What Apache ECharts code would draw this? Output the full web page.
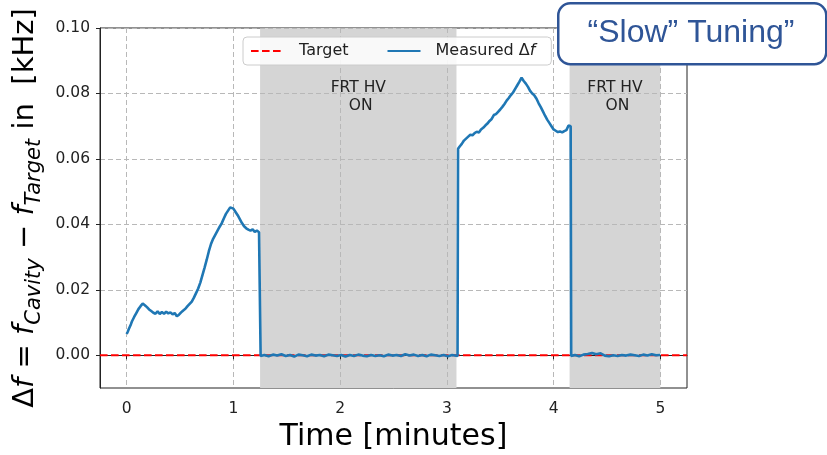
<!DOCTYPE html>
<html>
<head>
<meta charset="utf-8">
<title>Slow Tuning</title>
<script src="https://cdn.jsdelivr.net/npm/echarts@6/dist/echarts.min.js"></script>
<style>
html, body { margin: 0; padding: 0; background: #fff; }
#main { width: 827px; height: 455px; }
</style>
</head>
<body>
<div id="main"></div>
<script>
// tick values
var xTicks = [0, 1, 2, 3, 4, 5];
var yTicks = [0, 0.02, 0.04, 0.06, 0.08, 0.10];

// FRT HV on intervals [start, end] in minutes
var hvOn = [[1.25, 3.09], [4.15, 5.0]];

// target line (spans whole axis)
var target = [[-0.25, 0], [5.25, 0]];

// measured delta f, [minutes, kHz]
var tuning1 = [
  [0.00, 0.0065], [0.01, 0.0072], [0.02, 0.0080], [0.03, 0.0086], [0.04, 0.0095],
  [0.05, 0.0104], [0.07, 0.0117], [0.09, 0.0129], [0.11, 0.0141], [0.13, 0.0150],
  [0.15, 0.0158], [0.17, 0.0153], [0.19, 0.0147], [0.21, 0.0140], [0.23, 0.0135],
  [0.25, 0.0130], [0.27, 0.0127], [0.29, 0.0134], [0.31, 0.0126], [0.33, 0.0132],
  [0.35, 0.0127], [0.37, 0.0133], [0.39, 0.0128], [0.41, 0.0131], [0.43, 0.0125],
  [0.45, 0.0129], [0.47, 0.0119], [0.49, 0.0124], [0.51, 0.0131], [0.53, 0.0137],
  [0.55, 0.0142], [0.57, 0.0150], [0.59, 0.0157], [0.61, 0.0164], [0.63, 0.0176],
  [0.65, 0.0190], [0.67, 0.0204], [0.69, 0.0222], [0.71, 0.0245], [0.73, 0.0268],
  [0.75, 0.0292], [0.77, 0.0318], [0.79, 0.0340], [0.81, 0.0356], [0.83, 0.0368],
  [0.85, 0.0380], [0.87, 0.0392], [0.89, 0.0403], [0.91, 0.0418], [0.93, 0.0432],
  [0.95, 0.0442], [0.97, 0.0452], [0.985, 0.0456], [1.00, 0.0448], [1.02, 0.0438],
  [1.04, 0.0428], [1.06, 0.0416], [1.08, 0.0404], [1.10, 0.0394], [1.12, 0.0388],
  [1.14, 0.0384], [1.16, 0.0381], [1.18, 0.0385], [1.20, 0.0377], [1.22, 0.0381],
  [1.24, 0.0376], [1.25, 0.0378]
];
var hold1 = [
  [1.255, -0.0002], [1.29, 0.0001], [1.33, -0.0003], [1.37, 0.0002], [1.41, -0.0001],
  [1.45, 0.0003], [1.49, -0.0002], [1.53, 0.0001], [1.57, -0.0004], [1.61, 0.0002],
  [1.65, 0.0000], [1.69, -0.0003], [1.73, 0.0002], [1.77, -0.0001], [1.81, 0.0001],
  [1.85, -0.0003], [1.89, 0.0002], [1.93, 0.0000], [1.97, -0.0002], [2.01, 0.0001],
  [2.05, -0.0004], [2.09, 0.0001], [2.13, -0.0002], [2.17, 0.0002], [2.21, -0.0001],
  [2.25, -0.0003], [2.29, 0.0001], [2.33, -0.0002], [2.37, 0.0000], [2.41, -0.0003],
  [2.45, 0.0002], [2.49, -0.0001], [2.53, 0.0001], [2.57, -0.0002], [2.61, 0.0003],
  [2.65, -0.0001], [2.69, 0.0002], [2.73, -0.0002], [2.77, 0.0001], [2.81, -0.0003],
  [2.85, 0.0002], [2.89, 0.0000], [2.93, -0.0002], [2.97, 0.0001], [3.01, -0.0003],
  [3.05, 0.0001], [3.10, -0.0002]
];
var tuning2 = [
  [3.105, 0.0631], [3.12, 0.0638], [3.14, 0.0646], [3.16, 0.0656], [3.18, 0.0662],
  [3.20, 0.0668], [3.22, 0.0674], [3.24, 0.0672], [3.26, 0.0679], [3.28, 0.0683],
  [3.30, 0.0681], [3.32, 0.0690], [3.34, 0.0695], [3.36, 0.0702], [3.38, 0.0708],
  [3.40, 0.0716], [3.42, 0.0722], [3.44, 0.0734], [3.46, 0.0737], [3.48, 0.0744],
  [3.50, 0.0751], [3.52, 0.0759], [3.54, 0.0768], [3.56, 0.0778], [3.58, 0.0786],
  [3.60, 0.0795], [3.62, 0.0803], [3.64, 0.0814], [3.66, 0.0825], [3.68, 0.0836],
  [3.70, 0.0848], [3.72, 0.0838], [3.74, 0.0830], [3.76, 0.0820], [3.78, 0.0808],
  [3.80, 0.0800], [3.82, 0.0794], [3.84, 0.0784], [3.86, 0.0770], [3.88, 0.0758],
  [3.90, 0.0745], [3.92, 0.0732], [3.94, 0.0720], [3.96, 0.0710], [3.98, 0.0700],
  [4.00, 0.0690], [4.02, 0.0686], [4.04, 0.0682], [4.06, 0.0684], [4.08, 0.0681],
  [4.10, 0.0685], [4.12, 0.0688], [4.14, 0.0702], [4.16, 0.0700]
];
var hold2 = [
  [4.165, -0.0002], [4.20, 0.0001], [4.24, -0.0003], [4.28, 0.0002], [4.32, 0.0004],
  [4.36, 0.0007], [4.40, 0.0003], [4.44, 0.0006], [4.48, -0.0001], [4.52, -0.0003],
  [4.56, 0.0000], [4.60, -0.0002], [4.64, 0.0001], [4.68, -0.0001], [4.72, 0.0002],
  [4.76, 0.0000], [4.80, -0.0002], [4.84, 0.0002], [4.88, -0.0001], [4.92, 0.0003],
  [4.96, 0.0000], [5.00, 0.0001]
];
var measured = tuning1.concat(hold1, tuning2, hold2);

var font = 'DejaVu Sans';
var ink = '#222';

var myChart = echarts.init(document.getElementById('main'));

var option = {
  animation: false,
  grid: {
    left: 100, right: 140, top: 28, bottom: 67,
    outerBoundsMode: 'none', containLabel: false,
    show: true, borderColor: ink, borderWidth: 1, backgroundColor: 'transparent'
  },
  legend: {
    left: 243, top: 37,
    data: ['Target', 'Measured Δf'],
    itemWidth: 33, itemHeight: 14, itemGap: 38,
    padding: [6, 16, 6, 7],
    backgroundColor: 'rgba(255,255,255,0.85)',
    borderColor: '#cccccc', borderWidth: 1, borderRadius: 4,
    itemStyle: { opacity: 0 },
    formatter: function (name) {
      return name === 'Measured Δf' ? 'Measured Δ{it|f}' : name;
    },
    textStyle: {
      fontFamily: font, fontSize: 16, color: ink, padding: [0, 0, 0, 10],
      rich: { it: { fontFamily: font, fontSize: 16, fontStyle: 'italic', color: ink } }
    }
  },
  xAxis: {
    type: 'value', min: -0.25, max: 5.25, z: 1.5,
    name: 'Time [minutes]', nameLocation: 'middle', nameGap: 34,
    nameTextStyle: { fontFamily: font, fontSize: 30, color: '#000' },
    axisLine: { show: true, lineStyle: { color: ink } },
    axisTick: { show: true, length: 4, lineStyle: { color: ink }, customValues: xTicks },
    axisLabel: { customValues: xTicks, margin: 13, fontFamily: font, fontSize: 15.5, color: ink },
    splitLine: { show: true, lineStyle: { color: '#b8b8b8', type: [5, 3], width: 1 } }
  },
  yAxis: {
    type: 'value', min: -0.01, max: 0.10, z: 1.5,
    name: 'Δ{i|f} = {i|f}{s|Cavity} − {i|f}{s|Target} in  [kHz]',
    nameLocation: 'middle', nameGap: 46, nameRotate: 90,
    nameTextStyle: {
      fontFamily: font, fontSize: 29, color: '#000', lineHeight: 38,
      rich: {
        i: { fontFamily: font, fontSize: 29, fontStyle: 'italic', color: '#000', lineHeight: 38 },
        s: { fontFamily: font, fontSize: 21, fontStyle: 'italic', color: '#000', lineHeight: 17, verticalAlign: 'bottom' }
      }
    },
    axisLine: { show: true, onZero: false, lineStyle: { color: ink } },
    axisTick: { show: true, length: 4, lineStyle: { color: ink }, customValues: yTicks },
    axisLabel: {
      customValues: yTicks, margin: 10, fontFamily: font, fontSize: 15.5, color: ink,
      formatter: function (v) { return v.toFixed(2); }
    },
    splitLine: { show: true, lineStyle: { color: '#b8b8b8', type: [5, 3], width: 1 } }
  },
  series: [
    {
      name: 'shade', type: 'line', data: [], silent: true,
      markArea: {
        silent: true, z: 1,
        itemStyle: { color: '#d5d5d5' },
        label: {
          show: true, position: 'insideTop', distance: 51,
          formatter: 'FRT HV\n ON', fontFamily: font, fontSize: 15.5, lineHeight: 18, color: ink
        },
        data: hvOn.map(function (r) { return [{ xAxis: r[0] }, { xAxis: r[1] }]; })
      }
    },
    {
      name: 'Target', type: 'line', data: target, z: 2,
      symbol: 'none', lineStyle: { color: '#ff0000', width: 2.2, type: [7.6, 3.4] },
      itemStyle: { color: '#ff0000' }
    },
    {
      name: 'Measured Δf', type: 'line', data: measured, z: 3,
      symbol: 'none', lineStyle: { color: '#1f77b4', width: 2.6 },
      itemStyle: { color: '#1f77b4' }
    }
  ],
  graphic: [
    {
      type: 'rect', left: 557, top: 2, z: 100,
      shape: { x: 0, y: 0, width: 268, height: 61, r: 12 },
      style: { fill: '#ffffff', stroke: '#2f5597', lineWidth: 2.5 }
    },
    {
      type: 'text', x: 691, y: 33, z: 101,
      style: {
        text: '“Slow” Tuning”', fontFamily: 'Liberation Sans', fontSize: 32,
        fill: '#2f5597', align: 'center', verticalAlign: 'middle'
      }
    }
  ]
};
myChart.setOption(option);
</script>
</body>
</html>
